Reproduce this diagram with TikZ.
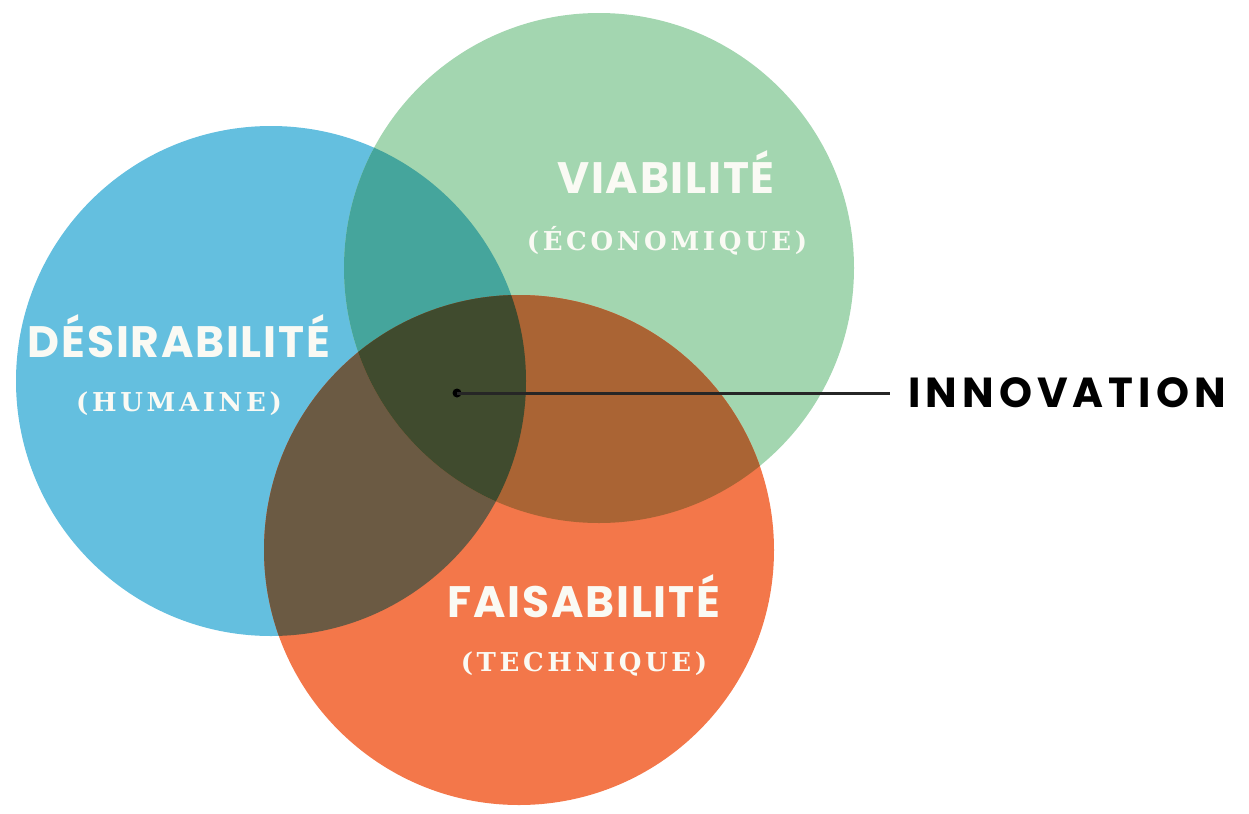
\documentclass[tikz,border=0pt]{standalone}
\usepackage{fontspec}
\setmainfont{Poppins}
\newfontfamily\slabfont[LetterSpace=14]{DejaVu Serif}
\newfontfamily\headfont[LetterSpace=4]{Poppins}
\newfontfamily\keyfont[LetterSpace=12]{Poppins}
\usetikzlibrary{positioning}
\definecolor{desirblue}{HTML}{64BFDF}
\definecolor{viablegreen}{HTML}{A3D6B0}
\definecolor{faisorange}{HTML}{F3774A}
\definecolor{bluegreen}{HTML}{45A59C}
\definecolor{blueorange}{HTML}{6B5A43}
\definecolor{greenorange}{HTML}{AA6434}
\definecolor{allthree}{HTML}{404B2E}
\definecolor{chalk}{HTML}{FAFAF4}
\tikzstyle{bubble}=[circle,draw=none,inner sep=0pt,outer sep=0pt,minimum size=255pt]
\tikzstyle{title}=[text=chalk,anchor=base,inner sep=0pt,font=\headfont\bfseries\fontsize{22}{22}\selectfont]
\tikzstyle{subtitle}=[text=chalk,anchor=base,inner sep=0pt,font=\slabfont\bfseries\fontsize{13}{13}\selectfont]
\tikzstyle{dot}=[circle,fill=black,inner sep=0pt,minimum size=4.5pt]
\tikzstyle{link}=[draw=black!85,line width=1.5pt]
\begin{document}
\begin{tikzpicture}[x=0.5pt,y=-0.5pt]
    \useasboundingbox (0,0) rectangle (1249,814);
    % the three circles
    \node[bubble,fill=desirblue] (desir) at (271,381) {};
    \node[bubble,fill=viablegreen] (viable) at (599,268) {};
    \node[bubble,fill=faisorange] (faisable) at (519,550) {};
    % overlaps
    \begin{scope}
        \clip (desir.center) circle[radius=127.5pt];
        \fill[bluegreen] (viable.center) circle[radius=127.5pt];
        \fill[blueorange] (faisable.center) circle[radius=127.5pt];
    \end{scope}
    \begin{scope}
        \clip (viable.center) circle[radius=127.5pt];
        \fill[greenorange] (faisable.center) circle[radius=127.5pt];
        \clip (desir.center) circle[radius=127.5pt];
        \fill[allthree] (faisable.center) circle[radius=127.5pt];
    \end{scope}
    % labels
    \node[title] (desirtitle) at (179,357) {DÉSIRABILITÉ};
    \node[subtitle] (desirsub) at (179,411) {(HUMAINE)};
    \node[title] (viabletitle) at (666,193) {VIABILITÉ};
    \node[subtitle] (viablesub) at (667,250) {(ÉCONOMIQUE)};
    \node[title] (faistitle) at (584,617) {FAISABILITÉ};
    \node[subtitle] (faissub) at (584,671) {(TECHNIQUE)};
    % innovation pointer
    \node[dot] (core) at (457,393) {};
    \node[anchor=west,inner xsep=9pt,inner ysep=0pt,font=\keyfont\bfseries\fontsize{21}{21}\selectfont] (innovation) at (890,393) {INNOVATION};
    \draw[link] (core.center) -- (innovation.west);
\end{tikzpicture}
\end{document}
